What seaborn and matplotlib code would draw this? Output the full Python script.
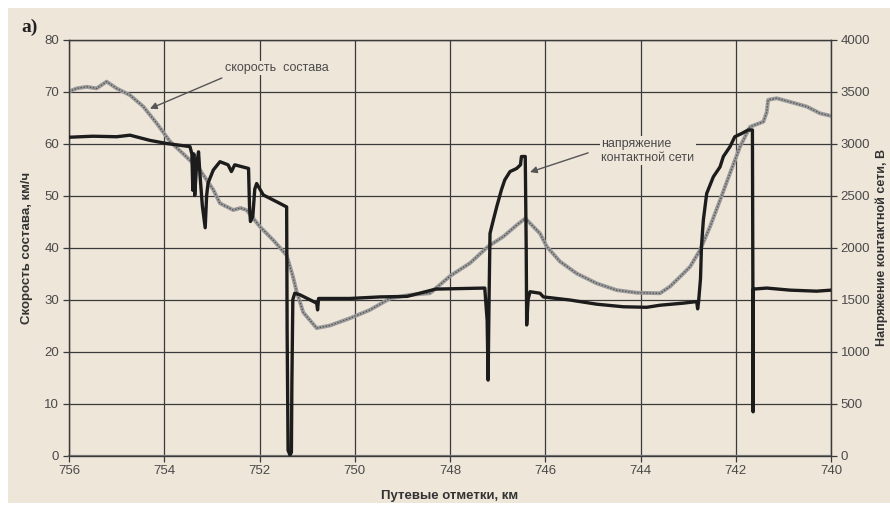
import numpy as np
import pandas as pd
import matplotlib
matplotlib.use("Agg")
import matplotlib.pyplot as plt
from matplotlib import font_manager
from matplotlib.patches import Rectangle
import seaborn as sns

# speed of the train, km/h (left axis)
speed_km = [756.0, 755.84, 755.63, 755.42, 755.21, 755.0, 754.72, 754.44, 754.16, 753.88,
            753.6, 753.25, 752.97, 752.83, 752.55, 752.4, 752.27, 751.99, 751.71, 751.43,
            751.3, 751.22, 751.08, 750.8, 750.52, 750.1, 749.68, 749.26, 748.84, 748.42,
            748.0, 747.58, 747.2, 746.88, 746.6, 746.42, 746.11, 745.97, 745.69, 745.34,
            744.92, 744.5, 744.08, 743.59, 743.38, 743.1, 742.96, 742.75, 742.54, 742.33,
            742.12, 741.91, 741.7, 741.42, 741.35, 741.32, 741.14, 740.86, 740.51, 740.23,
            740.0]
speed = [70.0, 70.6, 70.9, 70.6, 71.9, 70.6, 69.3, 67.1, 63.9, 60.4,
         58.0, 54.9, 51.1, 48.5, 47.2, 47.6, 47.2, 44.0, 41.4, 38.5,
         34.5, 31.5, 27.5, 24.5, 25.0, 26.4, 28.0, 30.2, 30.9, 31.2,
         34.5, 37.0, 40.2, 42.1, 44.3, 45.6, 42.7, 40.2, 37.3, 35.0,
         33.1, 31.8, 31.3, 31.2, 32.5, 35.0, 36.3, 39.5, 44.0, 49.1,
         54.3, 59.4, 63.2, 64.2, 66.0, 68.4, 68.7, 68.0, 67.1, 65.8,
         65.3]

# catenary voltage, V (right axis)
volt_km = [756.0, 755.5, 755.0, 754.72, 754.3, 753.95, 753.46, 753.42, 753.4, 753.38,
           753.36, 753.32, 753.28, 753.25, 753.2, 753.14, 753.11, 753.08, 752.97, 752.83,
           752.66, 752.59, 752.52, 752.23, 752.21, 752.19, 752.14, 752.1, 752.06, 751.92,
           751.64, 751.43, 751.42, 751.4, 751.36, 751.33, 751.32, 751.3, 751.26, 751.15,
           750.8, 750.78, 750.76, 750.1, 749.47, 748.9, 748.3, 747.27, 747.22, 747.2,
           747.18, 747.16, 747.09, 747.02, 746.92, 746.85, 746.74, 746.6, 746.52, 746.5,
           746.42, 746.4, 746.39, 746.36, 746.32, 746.11, 746.04, 745.48, 744.92, 744.36,
           743.87, 743.59, 743.1, 742.82, 742.8, 742.78, 742.74, 742.72, 742.68, 742.61,
           742.47, 742.33, 742.26, 742.12, 742.02, 741.88, 741.74, 741.65, 741.64, 741.635,
           741.63, 741.35, 740.86, 740.3, 740.0]
volt = [3060, 3070, 3065, 3080, 3030, 3000, 2970, 2900, 2550, 2900,
        2500, 2800, 2920, 2700, 2400, 2190, 2500, 2620, 2745, 2825,
        2795, 2730, 2795, 2760, 2400, 2250, 2300, 2560, 2615, 2505,
        2440, 2390, 1200, 50, 5, 30, 700, 1500, 1560, 1545,
        1465, 1400, 1510, 1510, 1525, 1530, 1600, 1610, 1300, 725,
        1500, 2135, 2265, 2390, 2555, 2650, 2730, 2760, 2795, 2875,
        2875, 2000, 1255, 1500, 1575, 1560, 1525, 1495, 1455, 1430,
        1425, 1445, 1465, 1480, 1410, 1480, 1700, 2010, 2265, 2520,
        2680, 2775, 2875, 2970, 3065, 3095, 3130, 3130, 1600, 420,
        1600, 1610, 1590, 1580, 1590]

x_ticks = list(range(740, 757, 2))
speed_ticks = list(range(0, 81, 10))
volt_ticks = list(range(0, 4001, 500))

speed_df = pd.DataFrame({"km": speed_km, "speed": speed})
volt_df = pd.DataFrame({"km": volt_km, "volt": volt})

sns.set_style("white")
names = {f.name for f in font_manager.fontManager.ttflist}
narrow = "Liberation Sans Narrow" if "Liberation Sans Narrow" in names else "Liberation Sans"
plt.rcParams["font.family"] = [narrow, "DejaVu Sans"]

beige = "#EFE6DA"
grid_c = "#3a3a3a"
text_c = "#4a4a4a"

fig = plt.figure(figsize=(8.9, 5.07), dpi=100, facecolor="white")
fig.patches.append(Rectangle((8 / 890, 4 / 507), 882 / 890, 495 / 507,
                             transform=fig.transFigure, facecolor=beige,
                             edgecolor="none", zorder=-10))
ax = fig.add_axes([69 / 890, 1 - 455.5 / 507, 762 / 890, 416 / 507])
ax.set_facecolor(beige)
ax2 = ax.twinx()

# speed: thick gray line with a dotted texture
sns.lineplot(data=speed_df, x="km", y="speed", ax=ax, sort=False, estimator=None,
             color="#9c9c9c", linewidth=2.8, zorder=3)
sns.lineplot(data=speed_df, x="km", y="speed", ax=ax, sort=False, estimator=None,
             color="#555555", linewidth=1.0, linestyle=(0, (1, 1.2)), zorder=4)
# voltage: black line on the right axis
sns.lineplot(data=volt_df, x="km", y="volt", ax=ax2, sort=False, estimator=None,
             color="#1c1c1c", linewidth=2.4, zorder=5)

ax.set_xlim(756, 740)
ax.set_ylim(0, 80)
ax2.set_ylim(0, 4000)
ax.set_xticks(x_ticks)
ax.set_yticks(speed_ticks)
ax2.set_yticks(volt_ticks)

ax.grid(True, color=grid_c, linewidth=0.9)
ax.set_axisbelow(True)
for a in (ax, ax2):
    for s in a.spines.values():
        s.set_color(grid_c)
        s.set_linewidth(0.9)
ax.spines["bottom"].set_color("#7a7a7a")
ax.spines["bottom"].set_linewidth(1.6)

ax.tick_params(axis="both", direction="out", length=4, width=0.9, color=grid_c,
               labelsize=9.5, labelcolor=text_c, pad=3, left=True, bottom=True)
ax2.tick_params(axis="y", direction="out", length=4, width=0.9, color=grid_c,
                labelsize=9.5, labelcolor=text_c, pad=3, right=True)

ax.set_xlabel("Путевые отметки, км", fontsize=9.5, fontweight="bold", color="#333333")
ax.set_ylabel("Скорость состава, км/ч", fontsize=9.5, fontweight="bold", color="#333333")
ax2.set_ylabel("Напряжение контактной сети, В", fontsize=9, fontweight="bold",
               color="#333333")
ax.xaxis.set_label_coords(0.5, -0.083)
ax.yaxis.set_label_coords(-0.047, 0.5)
ax2.yaxis.set_label_coords(1.059, 0.5)

# callouts
ax.text(752.72, 74.5, "скорость  состава", fontsize=9, color=text_c,
        ha="left", va="center", family=["Liberation Sans", "DejaVu Sans"], zorder=6,
        bbox=dict(facecolor=beige, edgecolor="none", pad=1))
ax.annotate("", xy=(754.3, 66.7), xytext=(752.79, 72.6),
            arrowprops=dict(arrowstyle="-|>", color="#555555", lw=1.0,
                            mutation_scale=10, shrinkA=0, shrinkB=0), zorder=6)
ax.text(744.82, 58.6, "напряжение\nконтактной сети", fontsize=9, color=text_c,
        ha="left", va="center", linespacing=1.25,
        family=["Liberation Sans", "DejaVu Sans"], zorder=6,
        bbox=dict(facecolor=beige, edgecolor="none", pad=1))
ax.annotate("", xy=(746.32, 54.5), xytext=(745.1, 58.2),
            arrowprops=dict(arrowstyle="-|>", color="#555555", lw=1.0,
                            mutation_scale=10, shrinkA=0, shrinkB=0), zorder=6)

fig.text(21 / 890, 1 - 27 / 507, "а)", fontsize=14, fontweight="bold",
         family=["Liberation Serif", "DejaVu Serif"], color="#222222",
         ha="left", va="center")

fig.savefig("out.png", dpi=100, facecolor="white")
